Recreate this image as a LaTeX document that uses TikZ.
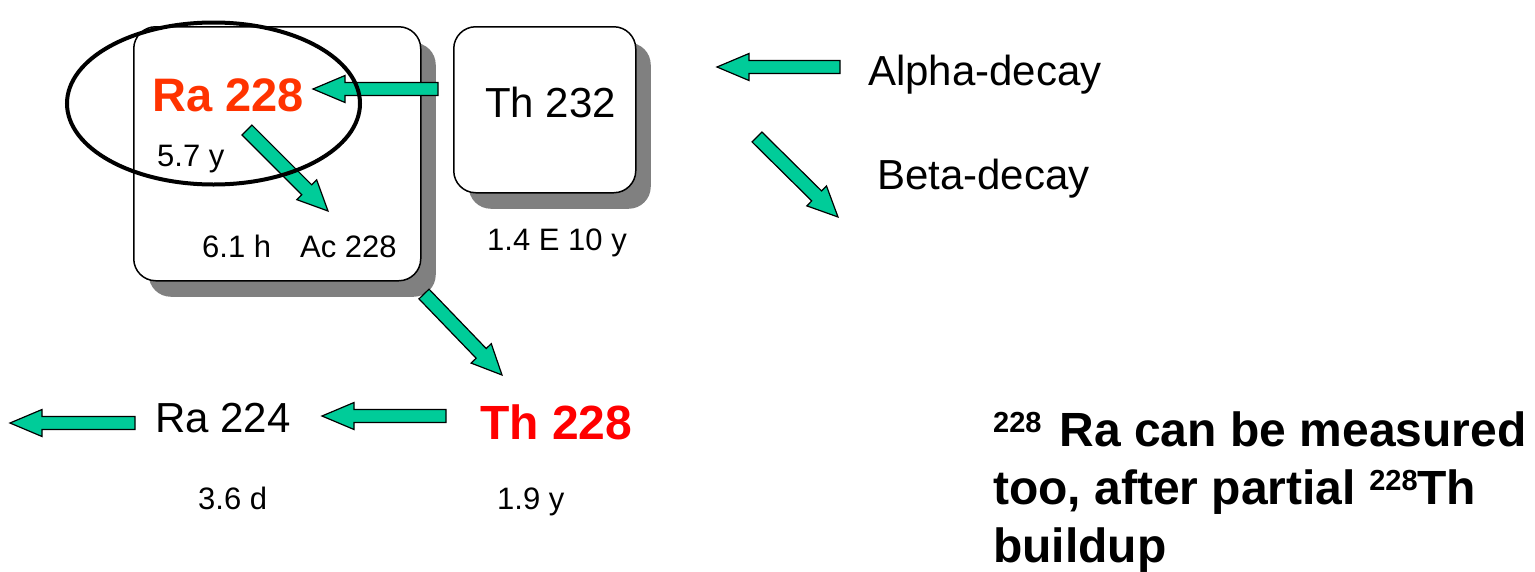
\documentclass[tikz,border=0pt]{standalone}
\usepackage{fontspec}
\setmainfont{Liberation Sans}
\usetikzlibrary{calc,shadows,shapes.geometric}
\definecolor{agreen}{RGB}{0,204,153}
\definecolor{raorange}{RGB}{255,51,0}
\definecolor{thred}{RGB}{255,0,0}
\definecolor{shadowgray}{RGB}{128,128,128}
\newcommand\fBigBold{\fontsize{47}{56}\selectfont\bfseries}
\newcommand\fThBold{\fontsize{48}{56}\selectfont\bfseries}
\newcommand\fMid{\fontsize{42}{50}\selectfont}
\newcommand\fSmall{\fontsize{31}{37}\selectfont}
\newcommand\fNote{\fontsize{48}{57}\selectfont\bfseries}
\newcommand\supnum[1]{\raisebox{14pt}{\fontsize{29}{30}\selectfont #1}}
\newcommand\blockarrow[5]{% #1 tail, #2 tip, #3 shaft half width, #4 head half width, #5 head length
  \pgfpointdiff{\pgfpointanchor{#1}{center}}{\pgfpointanchor{#2}{center}}%
  \pgfgetlastxy{\bax}{\bay}%
  \pgfmathsetmacro\balen{veclen(\bax,\bay)}%
  \pgfmathsetmacro\baang{atan2(\bay,\bax)}%
  \begin{scope}[shift={(#1)}, rotate=\baang]
    \draw[barrow] (0,-#3) -- ({\balen-#5},-#3) -- ({\balen-#5},-#4) -- (\balen,0)
      -- ({\balen-#5},#4) -- ({\balen-#5},#3) -- (0,#3) -- cycle;
  \end{scope}}
\begin{document}
\begin{tikzpicture}[x=1pt,y=-1pt,
  barrow/.style={draw=black, line width=1.2pt, fill=agreen, line join=miter},
  nbox/.style={draw=black, line width=1.5pt, fill=white, rounded corners=22pt,
    inner sep=0pt, anchor=north west,
    drop shadow={opacity=1, fill=shadowgray, shadow xshift=15pt, shadow yshift=-16pt}},
  lbl/.style={inner sep=0pt, anchor=base west},
  ring/.style={draw=black, line width=4pt}]
\useasboundingbox (0,0) rectangle (1535,571);

% boxes
\node[nbox, minimum width=287pt, minimum height=254pt] (box1) at (133,26) {};
\node[nbox, minimum width=182pt, minimum height=166pt] (box2) at (453,26) {};

% labels
\node[lbl, font=\fBigBold, text=raorange] (ra228) at (152,111) {Ra 228};
\node[lbl, font=\fSmall] (t57) at (157,166) {5.7 y};
\node[lbl, font=\fSmall] (t61) at (202,257) {6.1 h};
\node[lbl, font=\fSmall] (ac228) at (300,257) {Ac 228};
\node[lbl, font=\fMid] (th232) at (485,117) {Th 232};
\node[lbl, font=\fSmall] (t14) at (487,250) {1.4 E 10 y};
\node[lbl, font=\fMid] (alpha) at (868,85) {Alpha-decay};
\node[lbl, font=\fMid] (beta) at (877,189) {Beta-decay};
\node[lbl, font=\fThBold, text=thred] (th228) at (480,439) {Th 228};
\node[lbl, font=\fMid] (ra224) at (155,432) {Ra 224};
\node[lbl, font=\fSmall] (t36) at (198,509) {3.6 d};
\node[lbl, font=\fSmall] (t19) at (497,509) {1.9 y};
\node[lbl, font=\fNote] (note1) at (993,446) {\supnum{228}\hspace{18pt}Ra can be measured};
\node[lbl, font=\fNote] (note2) at (993,504) {too, after partial \supnum{228}Th};
\node[lbl, font=\fNote] (note3) at (993,562) {buildup};

% arrow end points
\coordinate (a1s) at (438,89);  \coordinate (a1e) at (313,89);
\coordinate (b1s) at (247,130); \coordinate (b1e) at (328,211);
\coordinate (b2s) at (424,294); \coordinate (b2e) at (502,375);
\coordinate (a2s) at (446,416); \coordinate (a2e) at (322,416);
\coordinate (a3s) at (135,423); \coordinate (a3e) at (10,423);
\coordinate (las) at (840,67);  \coordinate (lae) at (717,67);
\coordinate (lbs) at (757,137); \coordinate (lbe) at (838,217);

\blockarrow{a1s}{a1e}{6.5}{13.5}{32}
\blockarrow{b1s}{b1e}{7}{14}{30}
\blockarrow{b2s}{b2e}{7}{14}{30}
\blockarrow{a2s}{a2e}{6.5}{13.5}{32}
\blockarrow{a3s}{a3e}{6.5}{13.5}{32}
\blockarrow{las}{lae}{6.5}{13.5}{32}
\blockarrow{lbs}{lbe}{7}{14}{30}

% ring around Ra 228
\node[ring, ellipse, minimum width=293pt, minimum height=162pt, inner sep=0pt] (ring) at (213.5,103.5) {};
\end{tikzpicture}
\end{document}
